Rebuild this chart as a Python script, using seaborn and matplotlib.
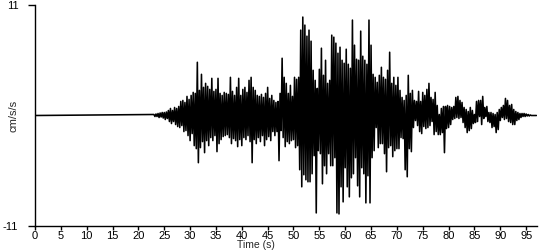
import numpy as np
import pandas as pd
import matplotlib
matplotlib.use("Agg")
import matplotlib.pyplot as plt
import seaborn as sns

# ---- data ----
record_start_s = 0.0
onset_s = 23.0
sample_interval_s = 0.2
record_end_s = 97.0
# alternating peak accelerations (cm/s/s), 5 per second starting at the onset
accel_peaks = [
    0.1, -0.1, 0.15, -0.1, 0.2,      # 23
    -0.2, 0.25, -0.15, 0.3, -0.25,   # 24
    0.3, -0.4, 0.35, -0.3, 0.5,      # 25
    -0.6, 0.7, -0.8, 0.5, -0.6,      # 26
    0.8, -0.9, 0.7, -1.1, 0.9,       # 27
    -1.2, 1.4, -1.0, 1.5, -1.6,      # 28
    1.3, -1.5, 1.9, -2.0, 1.6,       # 29
    -2.5, 2.0, -1.8, 2.3, -3.0,      # 30
    2.2, -3.3, 5.3, -4.7, 2.5,       # 31
    -3.2, 4.1, -2.6, 2.8, -3.7,      # 32
    3.2, -2.5, 2.9, -3.0, 2.6,       # 33
    -2.2, 3.7, -2.5, 2.4, -2.0,      # 34
    2.6, -3.6, 3.7, -2.8, 2.2,       # 35
    -2.4, 2.0, -2.1, 2.3, -2.0,      # 36
    2.2, -1.9, 2.1, -2.2, 3.8,       # 37
    -2.8, 2.4, -2.3, 2.0, -2.5,      # 38
    2.8, -3.1, 3.7, -2.4, 2.0,       # 39
    -3.0, 2.6, -2.2, 2.8, -2.4,      # 40
    2.3, -2.0, 3.5, -2.6, 3.8,       # 41
    -4.7, 2.8, -2.4, 2.5, -2.8,      # 42
    2.0, -2.2, 1.9, -2.6, 2.1,       # 43
    -2.0, 1.8, -3.0, 2.2, -2.4,      # 44
    2.8, -2.1, 1.7, -2.5, 2.0,       # 45
    -1.6, 1.5, -2.0, 1.3, -1.6,      # 46
    1.4, -4.5, 2.2, -1.5, 5.7,       # 47
    -2.2, 3.8, -3.1, 3.2, -2.6,      # 48
    2.2, -2.8, 3.0, -2.5, 1.9,       # 49
    -2.4, 3.8, -3.2, 3.6, -3.0,      # 50
    3.8, -5.4, 8.5, -7.1, 9.8,       # 51
    -5.9, 9.0, -6.4, 7.9, -6.6,      # 52
    8.5, -6.6, 7.4, -5.8, 4.5,       # 53
    -4.0, 3.5, -9.7, 2.7, -3.5,      # 54
    4.6, -3.8, 6.7, -6.8, 4.0,       # 55
    -5.0, 5.5, -5.8, 3.2, -3.8,      # 56
    3.5, -5.0, 8.0, -5.0, 7.8,       # 57
    -4.2, 7.2, -9.7, 6.2, -9.8,      # 58
    6.8, -7.1, 5.5, -8.6, 5.2,       # 59
    -5.2, 6.6, -7.1, 5.1, -8.1,      # 60
    4.7, -6.2, 9.5, -5.8, 7.0,       # 61
    -4.2, 5.6, -7.0, 5.5, -8.1,      # 62
    8.4, -5.2, 5.9, -5.8, 5.5,       # 63
    -8.7, 5.1, -6.0, 9.5, -8.7,      # 64
    7.0, -4.2, 4.1, -3.5, 3.8,       # 65
    -1.2, 3.3, -3.2, 4.0, -2.8,      # 66
    4.8, -2.8, 3.8, -3.8, 3.6,       # 67
    -5.6, 4.5, -3.2, 6.3, -3.0,      # 68
    3.2, -4.1, 3.8, -3.5, 3.0,       # 69
    -3.3, 3.8, -3.3, 2.5, -2.2,      # 70
    1.8, -2.3, 1.5, -5.4, 2.0,       # 71
    -6.1, 4.0, -3.3, 2.2, -3.6,      # 72
    2.5, -1.2, 1.5, -0.5, 1.4,       # 73
    -1.0, 2.4, -1.6, 1.4, -1.8,      # 74
    2.3, -1.1, 2.0, -1.3, 2.6,       # 75
    -1.2, 3.2, -1.0, 1.8, -0.6,      # 76
    1.6, -1.9, 2.3, -1.6, 1.0,       # 77
    -1.9, 0.1, -1.9, 0.7, -1.7,      # 78
    0.9, -3.7, 0.9, -1.3, 1.0,       # 79
    -1.2, 0.9, -0.9, 0.8, -0.4,      # 80
    0.9, -0.3, 1.8, -0.2, 1.9,       # 81
    -0.3, 1.5, -0.2, 1.3, -0.7,      # 82
    0.8, -1.2, 0.6, -1.7, 0.4,       # 83
    -1.5, 0.8, -1.3, 0.5, -0.8,      # 84
    0.1, -0.7, 1.4, -0.6, 1.5,       # 85
    -0.1, 1.5, -0.9, 1.9, -0.3,      # 86
    0.8, -0.1, 0.9, -0.6, 0.3,       # 87
    -0.7, 0.3, -1.2, 0.2, -1.1,      # 88
    0.1, -1.7, 0.3, -1.4, 0.6,       # 89
    -0.5, 0.8, -0.2, 1.0, -0.4,      # 90
    1.7, -0.3, 1.5, -0.6, 1.0,       # 91
    -0.7, 1.1, -0.9, 0.6, -0.9,      # 92
    0.4, -0.5, 0.3, -0.4, 0.2,       # 93
    -0.2, 0.2, -0.1, 0.2, -0.1,      # 94
    0.15, -0.05, 0.1, -0.05, 0.05,   # 95
    0.0, 0.0, 0.0, 0.0, 0.0,         # 96
]
x_ticks = list(range(0, 100, 5))
y_ticks = [-11, 11]
x_label = "Time (s)"
y_label = "cm/s/s"

# ---- assemble ----
times = [record_start_s] + [onset_s + i * sample_interval_s for i in range(len(accel_peaks))] + [record_end_s]
values = [0.0] + accel_peaks + [0.0]
df = pd.DataFrame({"time": times, "accel": values})

sns.set_theme(style="ticks")
plt.rcParams["font.family"] = ["Liberation Sans", "DejaVu Sans"]
plt.rcParams["axes.unicode_minus"] = False

fig = plt.figure(figsize=(5.5, 2.5), dpi=100)
ax = fig.add_axes([35 / 550, 1 - 226 / 250, 502 / 550, 221 / 250])
sns.lineplot(data=df, x="time", y="accel", ax=ax, color="black",
             linewidth=1.15, estimator=None, sort=False)

ax.set_xlim(0, 97.1)
ax.set_ylim(-11, 11)
ax.set_xticks(x_ticks)
ax.set_yticks(y_ticks)
ax.tick_params(axis="x", direction="out", length=3, width=1, pad=0.5,
               labelsize=8, colors="black")
ax.tick_params(axis="y", direction="out", length=5, width=1, pad=7,
               labelsize=8, colors="black")
for s in ["top", "right"]:
    ax.spines[s].set_visible(False)
for s in ["left", "bottom"]:
    ax.spines[s].set_color("black")
    ax.spines[s].set_linewidth(1)

ax.set_xlabel(x_label, fontsize=7.5, labelpad=0)
ax.xaxis.set_label_coords(0.44, -0.064)
ax.set_ylabel(y_label, fontsize=8)
ax.yaxis.set_label_coords(-0.032, 0.5)

fig.savefig("out.png", dpi=100)
